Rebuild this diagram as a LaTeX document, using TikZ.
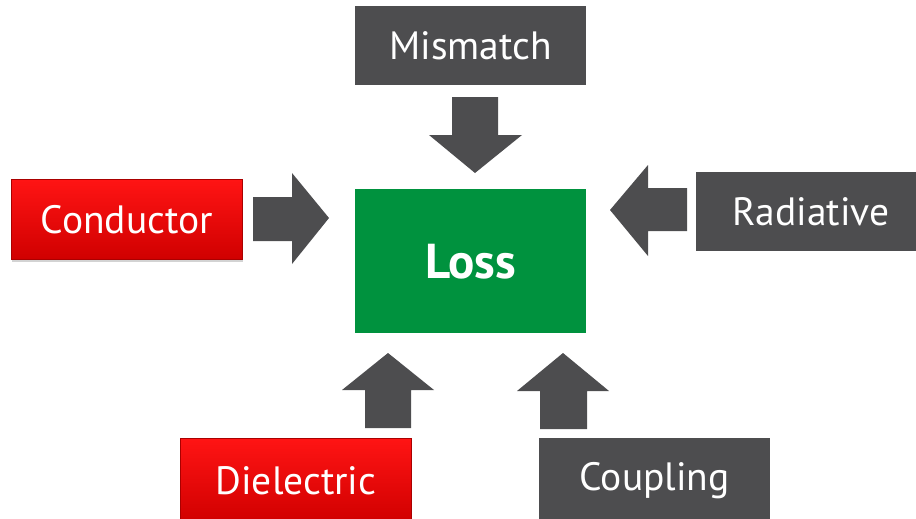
\documentclass[tikz,border=0pt]{standalone}
\usepackage{fontspec}
\setmainfont{PT Sans}
\usetikzlibrary{shadows}
\definecolor{dgray}{RGB}{77,77,79}
\definecolor{lossgreen}{RGB}{0,146,62}
\definecolor{redtop}{RGB}{255,20,20}
\definecolor{redbot}{RGB}{208,0,0}
\definecolor{redline}{RGB}{170,0,0}
\begin{document}
\begin{tikzpicture}[x=1pt,y=-1pt,
  box/.style={anchor=north west, inner sep=0pt, minimum width=231pt, minimum height=80pt,
    text=white, font=\fontsize{39.5}{39.5}\selectfont},
  graybox/.style={box, fill=dgray},
  redbox/.style={box, top color=redtop, bottom color=redbot, draw=redline, line width=0.8pt,
    drop shadow={opacity=0.35, shadow xshift=1pt, shadow yshift=-3pt}},
  blockarrow/.style={fill=dgray}]
\clip (0,0) rectangle (916,519);
\useasboundingbox (0,0) rectangle (916,519);

\node[graybox, minimum height=79pt] (mismatch) at (355,6) {Mismatch};
\node[redbox] (conductor) at (11,179) {Conductor};
\node[graybox, minimum height=79pt, minimum width=230pt] (radiative) at (696,172) {Radiative};
\node[redbox, minimum height=84pt] (dielectric) at (180,438) {Dielectric};
\node[graybox, minimum height=84pt] (coupling) at (539,438) {Coupling};
\node[box, fill=lossgreen, minimum height=144pt, font=\bfseries\fontsize{49}{49}\selectfont] (loss) at (355,189) {Loss};

% block arrows
\fill[blockarrow] (452,97) -- (498,97) -- (498,135) -- (522,135) -- (475,173) -- (429,135) -- (452,135) -- cycle;
\fill[blockarrow] (253,197) -- (292,197) -- (292,173) -- (329,218) -- (292,264) -- (292,241) -- (253,241) -- cycle;
\fill[blockarrow] (687,188) -- (648,188) -- (648,165) -- (610,210) -- (648,256) -- (648,231) -- (687,231) -- cycle;
\fill[blockarrow] (365,428) -- (365,390) -- (342,390) -- (388,353) -- (434,390) -- (411,390) -- (411,428) -- cycle;
\fill[blockarrow] (540,429) -- (540,391) -- (517,391) -- (563,353) -- (609,391) -- (587,391) -- (587,429) -- cycle;
\end{tikzpicture}
\end{document}
